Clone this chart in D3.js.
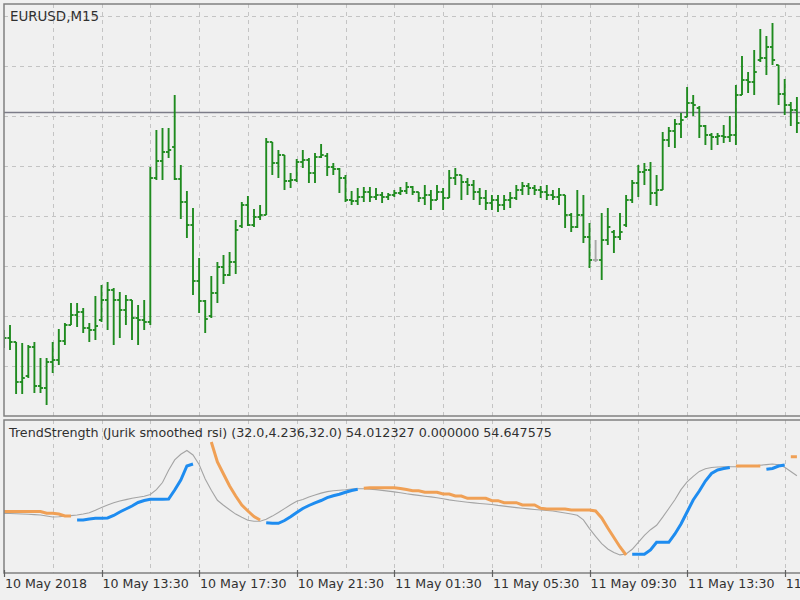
<!DOCTYPE html>
<html>
<head>
<meta charset="utf-8">
<script src="https://cdn.jsdelivr.net/npm/d3@7"></script>
<style>
  html, body { margin: 0; padding: 0; background: #f0f0f0; }
  svg { display: block; font-family: "DejaVu Sans", Verdana, sans-serif; }
</style>
</head>
<body>
<div id="chart"></div>
<script>
// EURUSD M15 bars, 10 May 09:30 .. 11 May 18:00
const openPrices = [
  1.18853, 1.18857, 1.18849, 1.18769, 1.18781, 1.18839, 1.18761, 1.18757, 1.18809, 1.18813,
  1.18851, 1.18883, 1.18903, 1.18909, 1.18877, 1.18873, 1.18893, 1.18933, 1.18953, 1.18933,
  1.18913, 1.18933, 1.18897, 1.18893, 1.18889, 1.19177, 1.19211, 1.19229, 1.19239, 1.19175,
  1.19129, 1.19083, 1.18971, 1.18931, 1.18901, 1.18947, 1.18999, 1.18983, 1.19009, 1.19081,
  1.19123, 1.19083, 1.19099, 1.19103, 1.19249, 1.19207, 1.19223, 1.19171, 1.19173, 1.19209,
  1.19213, 1.19187, 1.19219, 1.19221, 1.19199, 1.19195, 1.19177, 1.19133, 1.19131, 1.19139,
  1.19149, 1.19139, 1.19143, 1.19139, 1.19143, 1.19147, 1.19151, 1.19159, 1.19149, 1.19137,
  1.19143, 1.19133, 1.19149, 1.19137, 1.19177, 1.19183, 1.19169, 1.19163, 1.19149, 1.19137,
  1.19127, 1.19133, 1.19123, 1.19133, 1.19137, 1.19153, 1.19161, 1.19157, 1.19153, 1.19149,
  1.19143, 1.19139, 1.19143, 1.19103, 1.19079, 1.19103, 1.19059, 1.19013, 1.19013, 1.19053,
  1.19069, 1.19059, 1.19083, 1.19133, 1.19167, 1.19189, 1.19193, 1.19147, 1.19153, 1.19253,
  1.19271, 1.19285, 1.19299, 1.19327, 1.19317, 1.19281, 1.19263, 1.19259, 1.19261, 1.19259,
  1.19263, 1.19343, 1.19373, 1.19369, 1.19413, 1.19417, 1.19439, 1.19403, 1.19345, 1.19323,
  1.19313
];
const highPrices = [
  1.18873, 1.18883, 1.18849, 1.18847, 1.18843, 1.18849, 1.18817, 1.18817, 1.18849, 1.18875,
  1.18887, 1.18927, 1.18927, 1.18917, 1.18887, 1.18941, 1.18963, 1.18969, 1.18957, 1.18949,
  1.18943, 1.18933, 1.18923, 1.18933, 1.19199, 1.19273, 1.19277, 1.19277, 1.19343, 1.19203,
  1.19151, 1.19117, 1.19017, 1.18933, 1.18981, 1.19009, 1.19023, 1.19029, 1.19093, 1.19129,
  1.19141, 1.19115, 1.19123, 1.19257, 1.19249, 1.19233, 1.19223, 1.19187, 1.19215, 1.19233,
  1.19217, 1.19227, 1.19245, 1.19227, 1.19207, 1.19197, 1.19183, 1.19151, 1.19157, 1.19159,
  1.19159, 1.19157, 1.19149, 1.19147, 1.19153, 1.19159, 1.19169, 1.19161, 1.19149, 1.19163,
  1.19153, 1.19163, 1.19157, 1.19193, 1.19197, 1.19183, 1.19177, 1.19173, 1.19157, 1.19153,
  1.19143, 1.19143, 1.19143, 1.19149, 1.19163, 1.19169, 1.19167, 1.19163, 1.19161, 1.19163,
  1.19153, 1.19157, 1.19143, 1.19107, 1.19153, 1.19143, 1.19087, 1.19053, 1.19107, 1.19117,
  1.19073, 1.19107, 1.19143, 1.19173, 1.19203, 1.19207, 1.19209, 1.19183, 1.19269, 1.19279,
  1.19295, 1.19307, 1.19359, 1.19343, 1.19321, 1.19283, 1.19267, 1.19267, 1.19283, 1.19301,
  1.19363, 1.19421, 1.19389, 1.19433, 1.19475, 1.19461, 1.19487, 1.19403, 1.19375, 1.19329,
  1.19339
];
const lowPrices = [
  1.18837, 1.18833, 1.18745, 1.18745, 1.18777, 1.18747, 1.18747, 1.18723, 1.18787, 1.18803,
  1.18843, 1.18883, 1.18879, 1.18867, 1.18849, 1.18853, 1.18889, 1.18873, 1.18843, 1.18857,
  1.18883, 1.18853, 1.18843, 1.18873, 1.18883, 1.19173, 1.19173, 1.19217, 1.19173, 1.19095,
  1.19057, 1.18943, 1.18907, 1.18867, 1.18897, 1.18927, 1.18965, 1.18981, 1.18985, 1.19077,
  1.19081, 1.19079, 1.19093, 1.19103, 1.19183, 1.19177, 1.19153, 1.19157, 1.19169, 1.19197,
  1.19167, 1.19167, 1.19217, 1.19181, 1.19183, 1.19147, 1.19129, 1.19123, 1.19123, 1.19129,
  1.19129, 1.19133, 1.19127, 1.19133, 1.19139, 1.19143, 1.19145, 1.19143, 1.19129, 1.19123,
  1.19113, 1.19133, 1.19113, 1.19137, 1.19163, 1.19133, 1.19143, 1.19133, 1.19123, 1.19113,
  1.19113, 1.19109, 1.19113, 1.19117, 1.19133, 1.19143, 1.19143, 1.19143, 1.19137, 1.19133,
  1.19133, 1.19123, 1.19077, 1.19069, 1.19077, 1.19047, 1.18997, 1.19009, 1.18973, 1.19043,
  1.19027, 1.19053, 1.19079, 1.19127, 1.19139, 1.19163, 1.19123, 1.19121, 1.19153, 1.19239,
  1.19237, 1.19257, 1.19299, 1.19301, 1.19257, 1.19243, 1.19233, 1.19243, 1.19247, 1.19249,
  1.19243, 1.19343, 1.19347, 1.19343, 1.19409, 1.19383, 1.19403, 1.19323, 1.19303, 1.19281,
  1.19267
];
const closePrices = [
  1.18857, 1.18849, 1.18769, 1.18777, 1.18839, 1.18761, 1.18757, 1.18809, 1.18813, 1.18851,
  1.18883, 1.18903, 1.18909, 1.18877, 1.18873, 1.18881, 1.18933, 1.18953, 1.18933, 1.18913,
  1.18933, 1.18897, 1.18893, 1.18889, 1.19177, 1.19211, 1.19229, 1.19233, 1.19175, 1.19129,
  1.19083, 1.18971, 1.18931, 1.18895, 1.18947, 1.18999, 1.18983, 1.19009, 1.19073, 1.19123,
  1.19083, 1.19099, 1.19103, 1.19249, 1.19207, 1.19223, 1.19171, 1.19173, 1.19209, 1.19213,
  1.19187, 1.19219, 1.19223, 1.19199, 1.19195, 1.19177, 1.19133, 1.19131, 1.19139, 1.19149,
  1.19139, 1.19143, 1.19139, 1.19143, 1.19147, 1.19151, 1.19159, 1.19149, 1.19137, 1.19143,
  1.19133, 1.19149, 1.19137, 1.19177, 1.19183, 1.19169, 1.19163, 1.19149, 1.19137, 1.19127,
  1.19133, 1.19123, 1.19133, 1.19137, 1.19153, 1.19161, 1.19157, 1.19153, 1.19149, 1.19143,
  1.19139, 1.19143, 1.19103, 1.19079, 1.19103, 1.19059, 1.19013, 1.19013, 1.19053, 1.19079,
  1.19059, 1.19069, 1.19133, 1.19167, 1.19189, 1.19193, 1.19147, 1.19153, 1.19253, 1.19271,
  1.19285, 1.19293, 1.19327, 1.19323, 1.19281, 1.19263, 1.19259, 1.19261, 1.19259, 1.19263,
  1.19343, 1.19373, 1.19369, 1.19389, 1.19417, 1.19439, 1.19413, 1.19345, 1.19323, 1.19313,
  1.19287
];

// horizontal price line drawn on the chart
const levelPrice = 1.19308;
const priceGrid = [1.188, 1.189, 1.190, 1.191, 1.192, 1.193, 1.194, 1.195];

// TrendStrength (Jurik smoothed rsi) buffers
const smoothedRsi = [
  38.95, 38.89, 38.76, 38.56, 38.37, 38.17, 37.91, 37.26, 36.60, 36.73,
  37.12, 37.52, 37.91, 38.56, 39.35, 41.05, 42.88, 44.44, 45.88, 47.06,
  47.97, 48.89, 49.48, 50.13, 51.37, 54.51, 59.15, 67.12, 73.92, 77.58,
  80.07, 77.12, 70.92, 61.44, 54.12, 47.52, 44.31, 41.31, 38.50, 36.41,
  34.51, 33.86, 33.86, 35.10, 37.19, 39.54, 42.09, 44.58, 46.93, 48.10,
  49.61, 50.98, 52.22, 53.20, 53.79, 54.05, 54.38, 54.90, 55.10, 55.10,
  54.84, 54.51, 53.99, 53.53, 53.01, 52.42, 51.77, 51.24, 50.72, 50.20,
  49.74, 49.22, 48.50, 47.78, 47.26, 46.73, 46.28, 45.82, 45.43, 45.10,
  44.77, 44.18, 43.73, 43.20, 42.75, 42.35, 41.90, 41.50, 41.18, 40.85,
  40.52, 39.87, 39.22, 38.56, 37.78, 34.71, 29.02, 23.92, 19.22, 15.69,
  13.40, 11.83, 12.42, 15.49, 20.07, 24.64, 28.30, 31.18, 36.54, 42.16,
  47.91, 54.51, 59.61, 63.20, 66.41, 68.10, 68.95, 69.28, 69.48, 69.48,
  69.48, 69.67, 69.87, 70.13, 70.46, 70.85, 71.24, 70.72, 69.15, 66.34,
  63.60
];
const trendUp = [
  null, null, null, null, null, null, null, null, null, null,
  null, null, 34.64, 34.64, 35.29, 35.75, 35.75, 35.95, 37.58, 39.87,
  41.83, 43.79, 46.08, 47.39, 48.17, 48.17, 48.17, 48.37, 54.25, 60.78,
  69.94, 71.24, null, null, null, null, null, null, null, null,
  null, null, null, 32.88, 32.48, 32.48, 34.31, 36.80, 39.54, 42.16,
  44.12, 45.88, 47.39, 49.22, 50.52, 51.50, 52.75, 53.92, 54.71, null,
  null, null, null, null, null, null, null, null, null, null,
  null, null, null, null, null, null, null, null, null, null,
  null, null, null, null, null, null, null, null, null, null,
  null, null, null, null, null, null, null, null, null, null,
  null, null, null, 12.22, 12.22, 12.22, 15.03, 20.07, 20.07, 20.07,
  25.49, 32.03, 39.87, 47.71, 53.60, 60.13, 65.03, 67.32, 68.30, 68.95,
  null, null, null, null, null, 67.78, 68.30, 69.94, 70.59, null,
  null
];
const trendDown = [
  40.20, 40.20, 40.20, 40.20, 40.20, 40.20, 40.20, 39.02, 39.02, 38.56,
  37.26, 37.26, null, null, null, null, null, null, null, null,
  null, null, null, null, null, null, null, null, null, null,
  null, null, null, null, 85.62, 72.55, 64.71, 56.86, 50.33, 44.44,
  40.52, 36.93, 34.64, null, null, null, null, null, null, null,
  null, null, null, null, null, null, null, null, null, 55.36,
  55.75, 55.75, 55.75, 55.75, 55.75, 55.23, 54.58, 53.79, 53.79, 52.75,
  52.75, 52.75, 51.63, 51.63, 50.33, 50.33, 48.82, 48.82, 48.82, 48.82,
  47.26, 47.26, 45.95, 45.95, 45.95, 44.44, 44.44, 44.44, 42.29, 41.83,
  41.83, 41.83, 41.83, 41.18, 41.18, 41.18, 41.18, 40.52, 35.95, 29.41,
  23.20, 16.99, 11.76, null, null, null, null, null, null, null,
  null, null, null, null, null, null, null, null, null, null,
  69.94, 69.94, 69.94, 69.94, 69.94, null, null, null, null, 76.01,
  76.01
];

// time axis labels, one every 16 bars
const timeLabels = ["10 May 2018", "10 May 13:30", "10 May 17:30", "10 May 21:30",
  "11 May 01:30", "11 May 05:30", "11 May 09:30", "11 May 13:30", "11 May 17:30"];
const labelBars = [0, 16, 32, 48, 64, 80, 96, 112, 128];

const symbolTitle = "EURUSD,M15";
const indicatorTitle = "TrendStrength (Jurik smoothed rsi) (32.0,4.236,32.0) 54.012327 0.000000 54.647575";

// Layout
const width = 800, height = 600;
const left = 4;
const mainTop = 4, mainBottom = 416;
const indTop = 420, indBottom = 573;

const svg = d3.select("#chart")
  .append("svg")
  .attr("width", width)
  .attr("height", height);

svg.append("rect").attr("width", width).attr("height", height).attr("fill", "#f0f0f0");

const n = closePrices.length;
const x = d3.scaleLinear().domain([0, n - 1]).range([3.9, 3.9 + 6.1 * (n - 1)]);
const y = d3.scaleLinear().domain([1.18701, 1.19525]).range([mainBottom, mainTop]);
const yInd = d3.scaleLinear().domain([0, 100]).range([indBottom, indTop]);

// clip paths for the two panes
const defs = svg.append("defs");
defs.append("clipPath").attr("id", "clipMain")
  .append("rect").attr("x", left).attr("y", mainTop).attr("width", width - left).attr("height", mainBottom - mainTop);
defs.append("clipPath").attr("id", "clipInd")
  .append("rect").attr("x", left).attr("y", indTop).attr("width", width - left).attr("height", indBottom - indTop);

const gridX = d3.range(8, n, 8);

// main pane grid
const mainG = svg.append("g").attr("clip-path", "url(#clipMain)");
mainG.selectAll(".vgrid").data(gridX).enter().append("line")
  .attr("x1", (d) => Math.round(x(d)) + 0.5).attr("x2", (d) => Math.round(x(d)) + 0.5)
  .attr("y1", mainTop).attr("y2", mainBottom)
  .attr("stroke", "#c4c4c4").attr("stroke-dasharray", "4,4");
mainG.selectAll(".hgrid").data(priceGrid).enter().append("line")
  .attr("x1", left).attr("x2", width)
  .attr("y1", (d) => Math.round(y(d)) + 0.5).attr("y2", (d) => Math.round(y(d)) + 0.5)
  .attr("stroke", "#c4c4c4").attr("stroke-dasharray", "4,4");

// horizontal level line
mainG.append("line")
  .attr("x1", left).attr("x2", width)
  .attr("y1", y(levelPrice)).attr("y2", y(levelPrice))
  .attr("stroke", "#7c7c88").attr("stroke-width", 1.6);

// OHLC bars (unchanged bars drawn grey)
const bars = mainG.selectAll(".bar").data(d3.range(n)).enter().append("g")
  .attr("stroke", (i) => openPrices[i] === closePrices[i] ? "#a8a8a8" : "#1f8b1f")
  .attr("stroke-width", 1.9);
bars.append("line")
  .attr("x1", (i) => x(i)).attr("x2", (i) => x(i))
  .attr("y1", (i) => y(highPrices[i])).attr("y2", (i) => y(lowPrices[i]));
bars.append("line")
  .attr("x1", (i) => x(i) - 2.6).attr("x2", (i) => x(i))
  .attr("y1", (i) => y(openPrices[i])).attr("y2", (i) => y(openPrices[i]));
bars.append("line")
  .attr("x1", (i) => x(i)).attr("x2", (i) => x(i) + 2.6)
  .attr("y1", (i) => y(closePrices[i])).attr("y2", (i) => y(closePrices[i]));

// indicator pane grid
const indG = svg.append("g").attr("clip-path", "url(#clipInd)");
indG.selectAll(".vgrid").data(gridX).enter().append("line")
  .attr("x1", (d) => Math.round(x(d)) + 0.5).attr("x2", (d) => Math.round(x(d)) + 0.5)
  .attr("y1", indTop).attr("y2", indBottom)
  .attr("stroke", "#c4c4c4").attr("stroke-dasharray", "4,4");

const lineGen = d3.line()
  .defined((d) => d.v !== null)
  .x((d) => x(d.i))
  .y((d) => yInd(d.v));

const toPts = (arr) => arr.map((v, i) => ({ i: i, v: v }));

indG.append("path").datum(toPts(smoothedRsi))
  .attr("d", lineGen).attr("fill", "none")
  .attr("stroke", "#a4a4a4").attr("stroke-width", 1.1);
indG.append("path").datum(toPts(trendDown))
  .attr("d", lineGen).attr("fill", "none")
  .attr("stroke", "#f0a055").attr("stroke-width", 3);
indG.append("path").datum(toPts(trendUp))
  .attr("d", lineGen).attr("fill", "none")
  .attr("stroke", "#1e8cf0").attr("stroke-width", 3);

// pane borders
svg.append("path")
  .attr("d", `M${width},${mainTop}H${left}V${mainBottom}H${width}`)
  .attr("fill", "none").attr("stroke", "#808080").attr("stroke-width", 1.5);
svg.append("path")
  .attr("d", `M${width},${indTop}H${left}V${indBottom}H${width}`)
  .attr("fill", "none").attr("stroke", "#808080").attr("stroke-width", 1.5);

// titles
svg.append("text").attr("x", 10).attr("y", 20.5)
  .attr("font-size", 13.4).attr("fill", "#303030").text(symbolTitle);
svg.append("text").attr("x", 9).attr("y", 437)
  .attr("font-size", 12.7).attr("fill", "#303030").text(indicatorTitle);

// time axis
const axisG = svg.append("g");
axisG.selectAll(".tick").data(labelBars).enter().append("line")
  .attr("x1", (d) => Math.round(x(d)) + 0.5).attr("x2", (d) => Math.round(x(d)) + 0.5)
  .attr("y1", indBottom - 3).attr("y2", indBottom + 4)
  .attr("stroke", "#606060").attr("stroke-width", 1.2);
axisG.selectAll(".label").data(labelBars).enter().append("text")
  .attr("x", (d) => x(d) + 1)
  .attr("y", 588)
  .attr("font-size", 12.6)
  .attr("fill", "#303030")
  .text((d, i) => timeLabels[i]);
</script>
</body>
</html>
